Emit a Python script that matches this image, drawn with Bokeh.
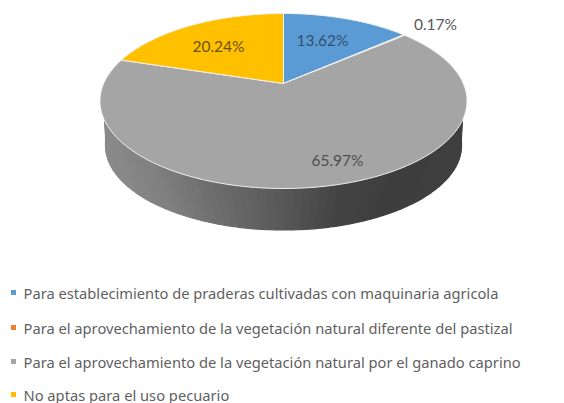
import numpy as np
from bokeh.plotting import figure
from bokeh.models import Range1d
from bokeh.core.properties import value
from bokeh.embed import file_html
from bokeh.resources import INLINE

categories = [
    "Para establecimiento de praderas cultivadas con maquinaria agricola",
    "Para el aprovechamiento de la vegetación natural diferente del pastizal",
    "Para el aprovechamiento de la vegetación natural por el ganado caprino",
    "No aptas para el uso pecuario",
]
shares = [13.62, 0.17, 65.97, 20.24]
share_labels = ["13.62%", "0.17%", "65.97%", "20.24%"]
colors = ["#5b9bd5", "#ed7d31", "#a5a5a5", "#ffc000"]

W, H = 564, 403
CX, CY = 283.0, 83.0
K, A, C = 179.8, 84.0, 0.2


def project(theta):
    u, v = np.sin(theta), np.cos(theta)
    d = 1 + C * v
    return CX + K * u / d, CY - A * v / d


p = figure(width=W, height=H, x_range=Range1d(0, W), y_range=Range1d(H, 0),
           output_backend="svg", toolbar_location=None, min_border=0,
           outline_line_color=None, background_fill_color="white",
           border_fill_color="white")
p.axis.visible = False
p.grid.visible = False

stops_x = [104, 150, 200, 283, 340, 400, 466]
stops_v = [138, 128, 112, 88, 68, 62, 64]
t = np.linspace(np.pi * 0.46, np.pi * 1.54, 81)
tx, ty = project(t)
tx = CX + (tx - CX) * 0.985
bx = CX + 178.0 * np.sin(t)
by = 145.0 - 84.5 * np.cos(t)
xs, ys, fills = [], [], []
for i in range(len(t) - 1):
    xs.append([tx[i], tx[i + 1], bx[i + 1], bx[i]])
    ys.append([ty[i] - 2, ty[i + 1] - 2, by[i + 1], by[i]])
    g = int(np.interp((tx[i] + tx[i + 1]) / 2, stops_x, stops_v))
    fills.append(f"#{g:02x}{g:02x}{g:02x}")
p.patches(xs, ys, fill_color=fills, line_color=fills, line_width=1.2)

edges = np.cumsum([0] + shares) / sum(shares) * 2 * np.pi
for a0, a1, col in zip(edges[:-1], edges[1:], colors):
    n = max(2, int((a1 - a0) * 60))
    th = np.linspace(a0, a1, n)
    x, y = project(th)
    p.patch(np.r_[CX, x], np.r_[CY, y], fill_color=col,
            line_color="#f2f2f2", line_width=1.0)

label_x = [322, 435, 337, 218]
label_y = [39, 23, 159, 45]
label_colors = ["#33506b", "#595959", "#4f4f4f", "#6b5208"]
p.text(label_x, label_y, text=share_labels, text_color=label_colors,
       text_font=value("Lato"), text_font_size="15.5px",
       text_align="center", text_baseline="middle")

legend_y = [292, 327, 361, 394]
p.scatter([13] * 4, legend_y, marker="square", size=5, fill_color=colors, line_color=None)
p.text([23] * 4, legend_y, text=categories, text_color="#5f5f5f",
       text_font=value("Noto Sans"), text_font_size="14.7px",
       text_align="left", text_baseline="middle")

open("out.html", "w").write(file_html(p, INLINE))
